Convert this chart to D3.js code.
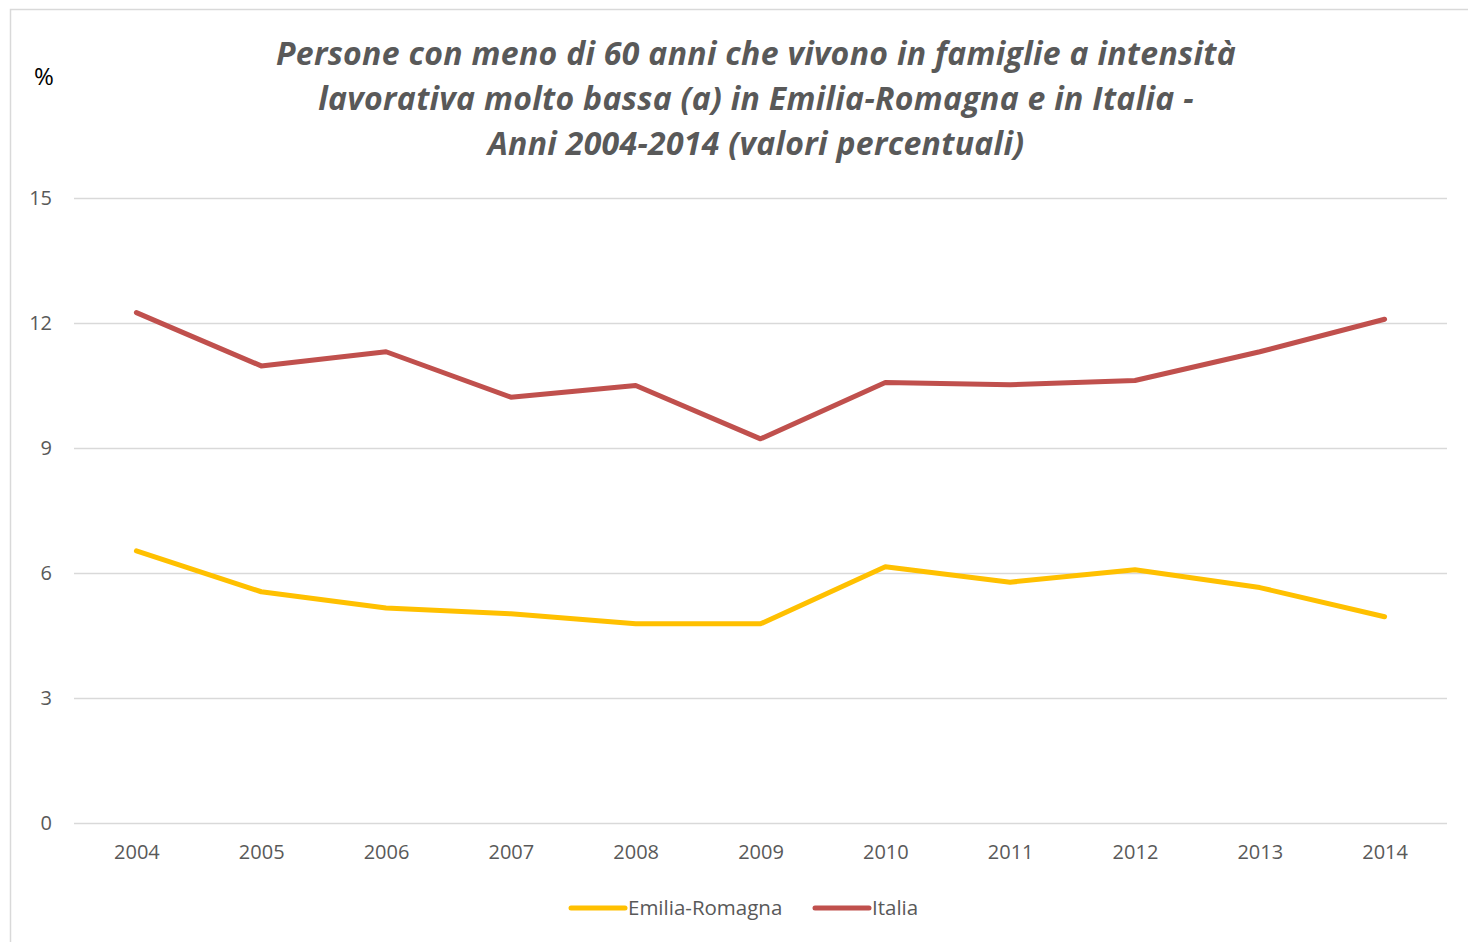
<!DOCTYPE html>
<html>
<head>
<meta charset="utf-8">
<script src="https://cdn.jsdelivr.net/npm/d3@7"></script>
<style>
  html, body { margin:0; padding:0; background:#fff; }
  svg { display:block; font-family: "Open Sans", "Noto Sans", sans-serif; }
</style>
</head>
<body>
<svg id="chart" width="1468" height="942"></svg>
<script>
// Persone <60 anni in famiglie a intensità lavorativa molto bassa, 2004-2014
const YEARS = ["2004","2005","2006","2007","2008","2009","2010","2011","2012","2013","2014"];
const EMILIA = [6.53, 5.55, 5.16, 5.02, 4.78, 4.78, 6.15, 5.78, 6.08, 5.65, 4.95];
const ITALIA = [12.25, 10.97, 11.31, 10.22, 10.50, 9.22, 10.57, 10.52, 10.62, 11.31, 12.09];
const Y_TICKS = [0, 3, 6, 9, 12, 15];
const TITLE = [
  "Persone con meno di 60 anni che vivono in famiglie a intensità",
  "lavorativa molto bassa (a) in Emilia-Romagna e in Italia -",
  "Anni 2004-2014 (valori percentuali)"
];
const SERIES = [
  {name:"Emilia-Romagna", values:EMILIA, color:"#FFC000"},
  {name:"Italia", values:ITALIA, color:"#C0504D"}
];

const W = 1468, H = 942;
const M = {left:74, right:1447, top:198, bottom:823};
const FONT = '"Open Sans", "Noto Sans", sans-serif';
const svg = d3.select("#chart");

// chart frame
svg.append("rect").attr("x",10.5).attr("y",9.5).attr("width",W+10).attr("height",H+10)
   .attr("fill","none").attr("stroke","#d9d9d9").attr("stroke-width",1.5);

const x = d3.scalePoint().domain(YEARS).range([M.left, M.right]).padding(0.5);
const y = d3.scaleLinear().domain([0,15]).range([M.bottom, M.top]);

// gridlines + y labels
const yAxis = svg.append("g").attr("transform",`translate(${M.left},0)`)
  .call(d3.axisLeft(y).tickValues(Y_TICKS).tickSize(-(M.right-M.left)).tickPadding(22))
  .attr("font-family", FONT);
yAxis.select(".domain").remove();
yAxis.selectAll(".tick line").attr("stroke","#d9d9d9").attr("stroke-width",1.5);
yAxis.selectAll(".tick text").attr("fill","#595959").attr("font-size",20);

// x labels
const xAxis = svg.append("g").attr("transform",`translate(0,${M.bottom})`)
  .call(d3.axisBottom(x).tickSize(0).tickPadding(22))
  .attr("font-family", FONT);
xAxis.select(".domain").remove();
xAxis.selectAll(".tick text").attr("fill","#595959").attr("font-size",20);

// lines
const line = d3.line().x((d,i)=>x(YEARS[i])).y(d=>y(d));
svg.append("g").selectAll("path").data(SERIES).join("path")
   .attr("d", d=>line(d.values))
   .attr("fill","none").attr("stroke", d=>d.color)
   .attr("stroke-width",5).attr("stroke-linecap","round").attr("stroke-linejoin","round");

// title
svg.append("text").attr("x",756).attr("y",65).attr("text-anchor","middle")
   .attr("font-size",32).attr("font-weight","bold").attr("font-style","italic")
   .attr("fill","#595959").attr("letter-spacing",0.3)
   .selectAll("tspan").data(TITLE).join("tspan")
   .attr("x",756).attr("dy",(d,i)=> i ? 45 : 0).text(d=>d);

// unit label
svg.append("text").attr("x",34).attr("y",85).attr("font-size",24).attr("fill","#000").text("%");

// legend
const legendX = [570, 814];
const lg = svg.append("g").selectAll("g").data(SERIES).join("g")
   .attr("transform",(d,i)=>`translate(${legendX[i]},908)`);
lg.append("line").attr("x1",1).attr("x2",55).attr("stroke",d=>d.color)
   .attr("stroke-width",5).attr("stroke-linecap","round");
lg.append("text").attr("x",58).attr("dy","0.35em").attr("font-size",20.5)
   .attr("fill","#595959").text(d=>d.name);
</script>
</body>
</html>
